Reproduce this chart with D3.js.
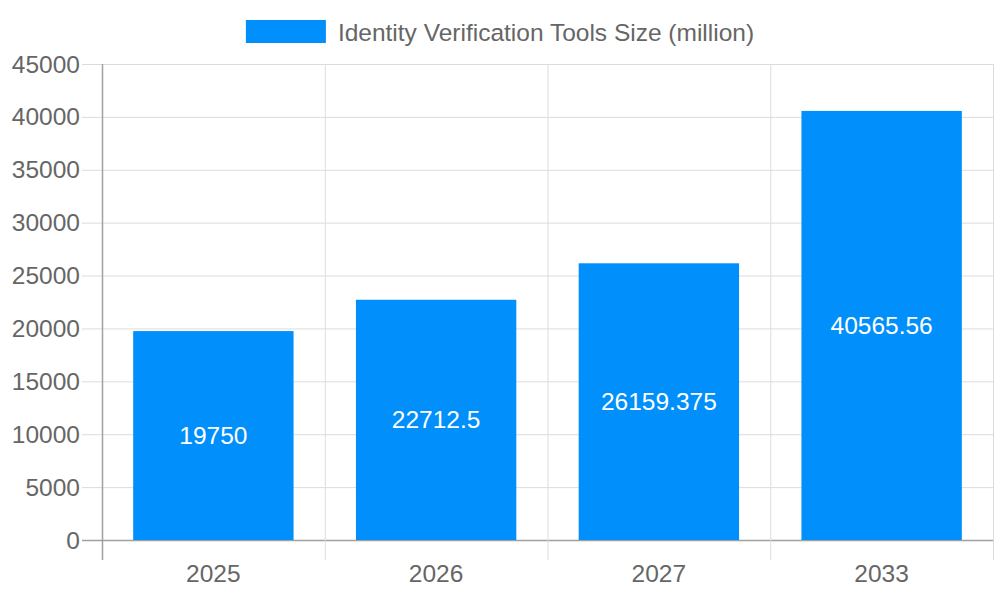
<!DOCTYPE html>
<html><head><meta charset="utf-8">
<script src="https://cdn.jsdelivr.net/npm/d3@7"></script>
<style>body{margin:0;background:#fff;}svg{display:block;font-family:"Liberation Sans",Arial,sans-serif;}</style>
</head><body>
<svg id="c" width="1000" height="600"></svg>
<script>
const categories = ["2025","2026","2027","2033"];
const values = [19750, 22712.5, 26159.375, 40565.56];
const valueLabels = ["19750","22712.5","26159.375","40565.56"];
const yTicks = [0,5000,10000,15000,20000,25000,30000,35000,40000,45000];
const seriesName = "Identity Verification Tools Size (million)";

const svg = d3.select("#c");
const L=102, R=993, T=64, B=540;
const FS = 24.5;
const x = d3.scaleBand().domain(categories).range([L,R]).paddingInner(0).paddingOuter(0);
const y = d3.scaleLinear().domain([0,45000]).range([B,T]);
const grid = "#dcdcdc", axisC = "#a0a0a0", txt = "#666";

// horizontal grid
svg.append("g").selectAll("line").data(yTicks).join("line")
  .attr("x1",82).attr("x2",R).attr("y1",d=>y(d)+0.5).attr("y2",d=>y(d)+0.5)
  .attr("stroke",d=>d===0?axisC:grid).attr("stroke-width",d=>d===0?1.5:1);
// vertical grid
const bounds = categories.map(c=>x(c)).concat([R]);
svg.append("g").selectAll("line").data(bounds).join("line")
  .attr("x1",d=>d+0.5).attr("x2",d=>d+0.5).attr("y1",T).attr("y2",560)
  .attr("stroke",(d,i)=>i===0?axisC:grid).attr("stroke-width",(d,i)=>i===0?1.5:1);

// bars
const bw = x.bandwidth()*0.72;
svg.append("g").selectAll("rect").data(values).join("rect")
  .attr("x",(d,i)=>x(categories[i])+(x.bandwidth()-bw)/2)
  .attr("width",bw)
  .attr("y",d=>y(d)).attr("height",d=>B-y(d))
  .attr("fill","#008ffb");
// value labels
svg.append("g").selectAll("text").data(values).join("text")
  .attr("x",(d,i)=>x(categories[i])+x.bandwidth()/2)
  .attr("y",d=>(y(d)+B)/2)
  .attr("dy","0.35em").attr("text-anchor","middle")
  .attr("fill","#fff").attr("font-size",FS)
  .text((d,i)=>valueLabels[i]);

// y tick labels
svg.append("g").selectAll("text").data(yTicks).join("text")
  .attr("x",80).attr("y",d=>y(d)).attr("dy","0.35em")
  .attr("text-anchor","end").attr("fill",txt).attr("font-size",FS)
  .text(d=>d);
// x tick labels
svg.append("g").selectAll("text").data(categories).join("text")
  .attr("x",d=>x(d)+x.bandwidth()/2).attr("y",573).attr("dy","0.35em")
  .attr("text-anchor","middle").attr("fill",txt).attr("font-size",FS)
  .text(d=>d);

// legend
const lg = svg.append("g");
const lt = lg.append("text").attr("x",338).attr("y",32).attr("dy","0.35em")
  .attr("fill",txt).attr("font-size",FS).text(seriesName);
const tw = lt.node().getComputedTextLength();
const total = 80+12+tw;
const sx = 500 - total/2;
lg.append("rect").attr("x",sx).attr("y",20).attr("width",80).attr("height",23).attr("fill","#008ffb");
lt.attr("x",sx+92);
</script>
</body></html>
